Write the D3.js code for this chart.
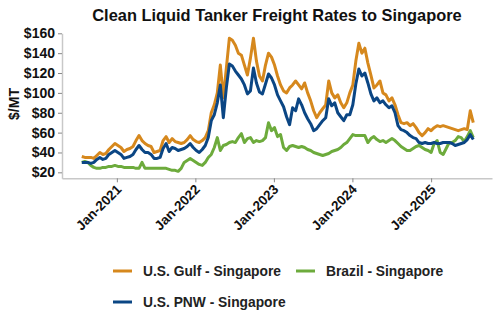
<!DOCTYPE html>
<html>
<head>
<meta charset="utf-8">
<script src="https://cdn.jsdelivr.net/npm/d3@7"></script>
<style>
    body { margin: 0; background: #fff; }
    text { font-family: "Liberation Sans", Arial, sans-serif; }
</style>
</head>
<body>
<script>
    // biweekly observations, first one on 22 Jul 2020
    const startDate = new Date(Date.UTC(2020, 6, 22));
    const stepDays = 14;

    const gulf = [36, 35, 35, 35, 34, 37, 40, 38, 39, 43, 46, 49, 47, 45, 41, 43, 44, 46, 52, 57,
        52, 49, 47, 46, 40, 41, 42, 52, 56, 50, 54, 51, 50, 49, 50, 53, 57, 53, 51, 50,
        52, 55, 62, 80, 88, 100, 128, 95, 125, 155, 153, 148, 140, 138, 128, 118, 135, 155, 132, 117,
        112, 128, 140, 136, 128, 117, 108, 102, 100, 105, 108, 112, 108, 104, 110, 100, 92, 82, 75, 80,
        84, 88, 112, 100, 95, 98, 90, 85, 90, 100, 108, 132, 150, 140, 145, 130, 118, 105, 108, 112,
        100, 98, 92, 95, 88, 78, 70, 69, 70, 67, 69, 65, 60, 57, 60, 64, 62, 65, 67, 66,
        67, 66, 65, 64, 63, 62, 63, 64, 63, 82, 70];

    const pnw = [30, 30, 30, 29, 30, 33, 35, 33, 34, 38, 40, 42, 40, 38, 34, 35, 36, 38, 43, 47,
        43, 40, 40, 38, 34, 34, 35, 44, 49, 41, 45, 44, 42, 43, 44, 46, 49, 45, 42, 40,
        43, 47, 55, 72, 78, 90, 108, 75, 105, 129, 127, 122, 118, 114, 108, 99, 102, 125, 110, 101,
        99, 109, 119, 115, 108, 98, 92, 86, 76, 68, 85, 82, 94, 88, 80, 74, 69, 62, 64, 68,
        72, 75, 94, 87, 90, 80, 76, 72, 78, 78, 88, 109, 124, 117, 120, 110, 99, 92, 95, 90,
        92, 88, 85, 87, 80, 67, 63, 62, 60, 57, 55, 54, 50, 49, 50, 49, 49, 50, 49, 49,
        50, 50, 50, 49, 47, 48, 49, 50, 53, 58, 53];

    const brazil = [30, 31, 30, 27, 25, 24, 24, 25, 25, 26, 26, 27, 26, 26, 25, 25, 25, 25, 24, 24,
        30, 24, 24, 24, 24, 24, 24, 24, 24, 23, 22, 22, 21, 24, 30, 32, 34, 32, 30, 28,
        27, 30, 35, 38, 45, 55, 42, 47, 48, 50, 51, 50, 55, 59, 50, 54, 55, 50, 52, 51,
        52, 55, 70, 62, 65, 56, 58, 45, 42, 46, 47, 46, 45, 46, 45, 43, 42, 40, 39, 38,
        37, 38, 39, 41, 42, 43, 45, 48, 50, 54, 58, 57, 57, 57, 57, 50, 54, 56, 53, 51,
        52, 50, 52, 54, 52, 49, 46, 44, 42, 42, 44, 46, 47, 45, 43, 42, 40, 49, 52, 40,
        38, 44, 50, 50, 52, 56, 55, 51, 56, 62, 55];

    const seriesNames = ['U.S. Gulf - Singapore', 'Brazil - Singapore', 'U.S. PNW - Singapore'];
    const seriesColors = ['#d6881d', '#6dab3c', '#0b4684'];
    const yTicks = [20, 40, 60, 80, 100, 120, 140, 160];

    const dates = gulf.map((d, i) => d3.utcDay.offset(startDate, i * stepDays));
    const series = [
        {name: seriesNames[0], color: seriesColors[0], values: gulf},
        {name: seriesNames[1], color: seriesColors[1], values: brazil},
        {name: seriesNames[2], color: seriesColors[2], values: pnw}
    ];

    const width = 500, height = 330;
    const plot = {left: 62, right: 492, top: 33.3, bottom: 178.3};

    const svg = d3.select('body').append('svg')
        .attr('width', width)
        .attr('height', height);

    // scales
    const xScale = d3.scaleUtc()
        .domain([new Date(Date.UTC(2020, 3, 21)), new Date(Date.UTC(2025, 9, 11))])
        .range([plot.left, plot.right]);

    const yScale = d3.scaleLinear()
        .domain([14, 160])
        .range([plot.bottom, plot.top]);

    // title
    svg.append('text')
        .attr('x', 277)
        .attr('y', 21)
        .attr('text-anchor', 'middle')
        .attr('font-size', '16.4px')
        .attr('font-weight', 'bold')
        .attr('fill', '#111')
        .text('Clean Liquid Tanker Freight Rates to Singapore');

    // axes
    const yAxis = d3.axisLeft(yScale)
        .tickValues(yTicks)
        .tickSize(4)
        .tickSizeOuter(0)
        .tickFormat(d => '$' + d);

    const xAxis = d3.axisBottom(xScale)
        .ticks(d3.utcYear.every(1))
        .tickSize(4)
        .tickSizeOuter(0)
        .tickFormat(d3.utcFormat('%b-%Y'));

    const yAxisGroup = svg.append('g')
        .attr('class', 'axis y-axis')
        .attr('transform', `translate(${plot.left}, 0)`)
        .call(yAxis);

    yAxisGroup.select('.domain').attr('stroke', '#c8c8c8').attr('stroke-width', 1.5);
    yAxisGroup.selectAll('.tick line').attr('stroke', '#888');
    yAxisGroup.selectAll('.tick text')
        .attr('x', -7)
        .attr('font-size', '14px')
        .attr('font-weight', 'bold')
        .attr('font-family', '"Liberation Sans", Arial, sans-serif')
        .attr('fill', '#111');

    const xAxisGroup = svg.append('g')
        .attr('class', 'axis x-axis')
        .attr('transform', `translate(0, ${plot.bottom})`)
        .call(xAxis);

    xAxisGroup.select('.domain').attr('stroke', '#c8c8c8').attr('stroke-width', 1.5);
    xAxisGroup.selectAll('.tick line').attr('stroke', '#888');
    xAxisGroup.selectAll('.tick text')
        .attr('x', 0)
        .attr('y', 0)
        .attr('dy', 0)
        .attr('text-anchor', 'end')
        .attr('transform', 'translate(5, 12) rotate(-45)')
        .attr('font-size', '13.5px')
        .attr('font-weight', 'bold')
        .attr('font-family', '"Liberation Sans", Arial, sans-serif')
        .attr('fill', '#111');

    // y label
    svg.append('text')
        .attr('transform', `translate(19, 104) rotate(-90)`)
        .attr('text-anchor', 'middle')
        .attr('font-size', '14px')
        .attr('font-weight', 'bold')
        .attr('fill', '#111')
        .text('$/MT');

    // lines, brazil first so the others sit on top
    const line = d3.line()
        .x((d, i) => xScale(dates[i]))
        .y(d => yScale(d));

    svg.selectAll('.series')
        .data([series[1], series[0], series[2]])
        .enter()
        .append('path')
            .attr('class', 'series')
            .attr('d', d => line(d.values))
            .attr('fill', 'none')
            .attr('stroke', d => d.color)
            .attr('stroke-width', 3)
            .attr('stroke-linejoin', 'round');

    // legend
    const legendPos = [[113, 271], [296, 271], [113, 302]];
    const legend = svg.selectAll('.legend')
        .data(series)
        .enter()
        .append('g')
            .attr('class', 'legend')
            .attr('transform', (d, i) => `translate(${legendPos[i][0]}, ${legendPos[i][1]})`);

    legend.append('line')
        .attr('x1', 0)
        .attr('x2', 19)
        .attr('stroke', d => d.color)
        .attr('stroke-width', 3);

    legend.append('text')
        .attr('x', 30)
        .attr('y', 5)
        .attr('font-size', '13.8px')
        .attr('font-weight', 'bold')
        .attr('fill', '#222')
        .text(d => d.name);
</script>
</body>
</html>
